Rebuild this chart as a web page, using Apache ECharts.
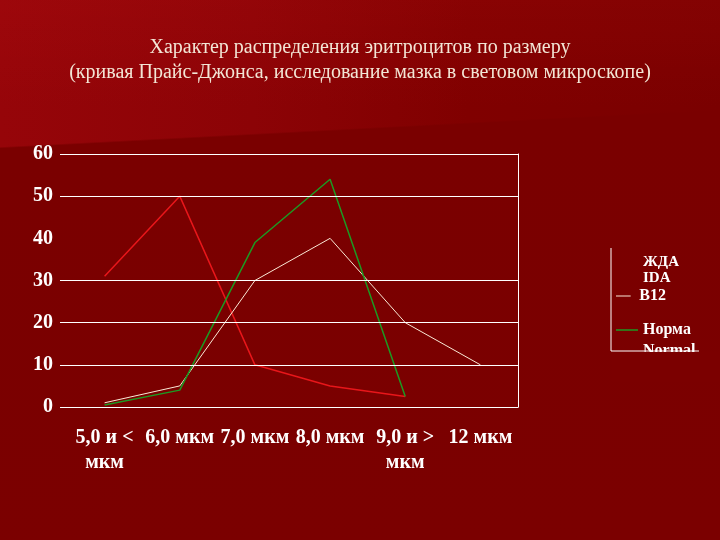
<!DOCTYPE html>
<html>
<head>
<meta charset="utf-8">
<script src="https://cdn.jsdelivr.net/npm/echarts@6/dist/echarts.min.js"></script>
<style>
  html, body { margin: 0; padding: 0; }
  body {
    width: 720px; height: 540px; overflow: hidden;
    background:
      linear-gradient(177deg, rgba(122,0,0,0) 25.4%, #7a0000 25.7%, #7b0000 100%),
      linear-gradient(180deg, rgba(255,40,40,0.07) 0%, rgba(255,40,40,0) 20%),
      linear-gradient(90deg, #960509 0%, #8c0306 35%, #800000 65%, #7a0000 100%);
  }
  #main { width: 720px; height: 540px; }
</style>
</head>
<body>
<div id="main"></div>
<script>
// категории (размер эритроцитов)
var categories = ['5,0 и <\nмкм', '6,0 мкм', '7,0 мкм', '8,0 мкм', '9,0 и >\nмкм', '12 мкм'];
// значения кривых
var idaValues = [31, 50, 10, 5, 2.5, null];
var b12Values = [1, 5, 30, 40, 20, 10];
var normValues = [0.5, 4, 39, 54, 2.5, null];
// деления оси Y с линиями сетки (у 40 линии нет, как на слайде)
var yTicks = [0, 10, 20, 30, 50, 60];

var serif = '"Liberation Serif", "DejaVu Serif", serif';
var lineIcon = 'path://M0,0H22V1.5H0Z';
var myChart = echarts.init(document.getElementById('main'));

var legendText = function (size) {
    return { color: '#fff', fontFamily: serif, fontWeight: 'bold', fontSize: size, lineHeight: 16 };
};

// линии сетки — через markLine по значениям оси
var gridLines = yTicks.filter(function (v) { return v > 0; }).map(function (v) {
    return { yAxis: v };
});

var option = {
    backgroundColor: 'transparent',
    animation: false,
    title: {
        text: 'Характер распределения эритроцитов по размеру\n(кривая Прайс-Джонса, исследование мазка в световом микроскопе)',
        left: 'center',
        top: 30,
        textStyle: {
            color: '#f3e6d6',
            fontFamily: serif,
            fontWeight: 'normal',
            fontSize: 20,
            lineHeight: 25
        }
    },
    legend: [
        {
            data: [{ name: 'ЖДА\nIDA', itemStyle: { opacity: 0 } }],
            left: 616, top: 254, padding: 0,
            itemWidth: 22, itemHeight: 2, icon: lineIcon,
            textStyle: legendText(15)
        },
        {
            data: ['B12'],
            left: 616, top: 288, padding: 0,
            itemWidth: 22, itemHeight: 1, icon: lineIcon,
            textStyle: legendText(16)
        },
        {
            data: ['Норма'],
            left: 616, top: 322, padding: 0,
            itemWidth: 22, itemHeight: 2, icon: lineIcon,
            textStyle: legendText(16)
        }
    ],
    grid: { left: 67, right: 202, top: 154, bottom: 133 },
    xAxis: {
        type: 'category',
        data: categories,
        boundaryGap: true,
        axisLine: { lineStyle: { color: '#fff', width: 1 } },
        axisTick: {
            length: 8,
            lineStyle: { color: '#fff' },
            interval: function (index) { return index !== 0; }
        },
        axisLabel: {
            color: '#fff',
            fontFamily: serif,
            fontWeight: 'bold',
            fontSize: 20,
            lineHeight: 25,
            margin: 18,
            interval: 0
        }
    },
    yAxis: [
        {
            type: 'value',
            min: 0, max: 60, interval: 10,
            axisLine: { show: false },
            axisTick: { show: true, length: 7, lineStyle: { color: '#fff' }, customValues: yTicks },
            splitLine: { show: false },
            axisLabel: { color: '#fff', fontFamily: serif, fontWeight: 'bold', fontSize: 20, margin: 14 }
        },
        {
            type: 'value',
            position: 'right',
            min: 0, max: 60, interval: 10,
            axisLine: { show: true, lineStyle: { color: '#fff', width: 1 } },
            axisTick: { show: false },
            axisLabel: { show: false },
            splitLine: { show: false }
        }
    ],
    series: [
        {
            name: 'ЖДА\nIDA',
            type: 'line',
            data: idaValues,
            symbol: 'none',
            z: 3,
            lineStyle: { color: '#e8161a', width: 1.5 },
            itemStyle: { color: '#e8161a' },
            markLine: {
                silent: true,
                symbol: 'none',
                label: { show: false },
                lineStyle: { color: '#fff', width: 1, type: 'solid' },
                data: gridLines
            }
        },
        {
            name: 'B12',
            type: 'line',
            data: b12Values,
            symbol: 'none',
            z: 3,
            lineStyle: { color: '#fbe9d6', width: 1 },
            itemStyle: { color: '#fbe9d6' }
        },
        {
            name: 'Норма',
            type: 'line',
            data: normValues,
            symbol: 'none',
            z: 3,
            lineStyle: { color: '#1c9a22', width: 1.5 },
            itemStyle: { color: '#1c9a22' }
        }
    ],
    graphic: [
        {
            type: 'text',
            left: 643, top: 343, z: 10,
            style: { text: 'Normal', fill: '#fff', font: 'bold 16px ' + serif }
        },
        {
            type: 'rect',
            shape: { x: 612, y: 352, width: 108, height: 30 },
            style: { fill: '#7b0000' },
            z: 20
        },
        {
            type: 'polyline',
            shape: { points: [[611, 248], [611, 351], [699, 351]] },
            style: { stroke: '#fff', lineWidth: 1, fill: null },
            z: 30
        }
    ]
};

myChart.setOption(option);
</script>
</body>
</html>
